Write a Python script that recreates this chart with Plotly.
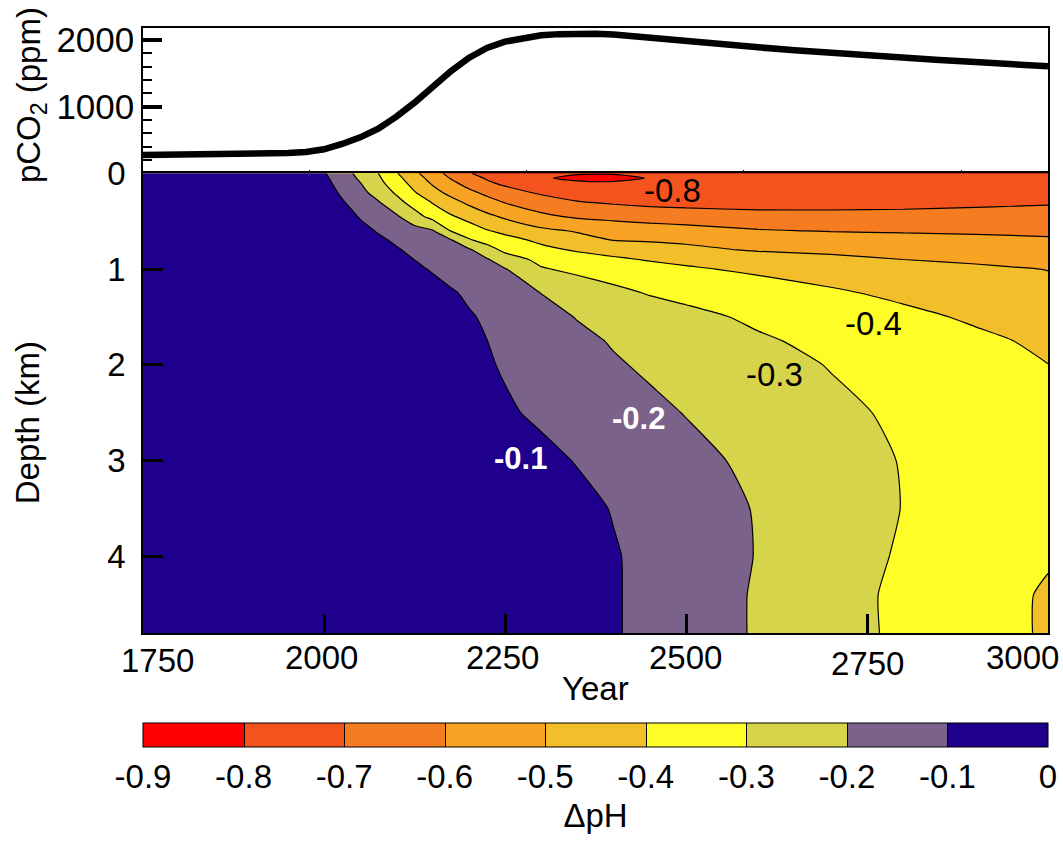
import plotly.graph_objects as go

# ---- top panel: atmospheric pCO2 (ppm) ----
co2_years = [1750, 1800, 1850, 1900, 1950, 1975, 2000, 2025, 2050, 2075, 2100, 2125,
             2150, 2175, 2200, 2225, 2250, 2275, 2300, 2325, 2350, 2375, 2400, 2450,
             2500, 2550, 2600, 2650, 2700, 2750, 2800, 2850, 2900, 2950, 3000]
co2_ppm = [275, 278, 282, 290, 305, 320, 360, 440, 540, 670, 850, 1060,
           1300, 1530, 1730, 1880, 1975, 2030, 2070, 2088, 2095, 2092, 2082, 2040,
           1985, 1935, 1890, 1845, 1805, 1766, 1733, 1700, 1670, 1640, 1605]

# ---- lower panel: delta pH section, columns = years, rows = depth (km) ----
ph_years = [1750, 1900, 2000, 2025, 2050, 2075, 2100, 2125, 2150, 2175, 2200, 2225,
            2250, 2300, 2350, 2400, 2450, 2500, 2600, 2700, 2800, 2900, 2950, 3000]
ph_depths = [0, 0.05, 0.1, 0.2, 0.3, 0.45, 0.6, 0.7, 0.8, 0.9, 1.0, 1.25, 1.5, 1.75, 2.0,
             2.5, 3.0, 3.5, 4.0, 4.4, 4.8]

dph_000 = [0.0, -0.005, -0.092, -0.159, -0.229, -0.300, -0.393, -0.479, -0.559, -0.631, -0.695, -0.724,
           -0.750, -0.785, -0.795, -0.797, -0.794, -0.792, -0.789, -0.786, -0.783, -0.780, -0.779, -0.778]
dph_005 = [0.0, -0.005, -0.082, -0.147, -0.214, -0.286, -0.371, -0.457, -0.534, -0.605, -0.661, -0.709,
           -0.737, -0.793, -0.814, -0.812, -0.798, -0.792, -0.787, -0.784, -0.781, -0.778, -0.776, -0.775]
dph_010 = [0.0, -0.005, -0.073, -0.135, -0.198, -0.273, -0.353, -0.435, -0.513, -0.579, -0.635, -0.686,
           -0.720, -0.760, -0.790, -0.795, -0.789, -0.785, -0.780, -0.777, -0.775, -0.772, -0.771, -0.770]
dph_020 = [0.0, -0.005, -0.056, -0.114, -0.172, -0.238, -0.313, -0.394, -0.466, -0.527, -0.578, -0.622,
           -0.662, -0.715, -0.735, -0.748, -0.754, -0.757, -0.758, -0.757, -0.755, -0.752, -0.751, -0.750]
dph_030 = [0.0, -0.005, -0.041, -0.092, -0.143, -0.194, -0.269, -0.341, -0.407, -0.467, -0.520, -0.567,
           -0.606, -0.651, -0.696, -0.712, -0.722, -0.728, -0.733, -0.732, -0.728, -0.720, -0.715, -0.710]
dph_045 = [0.0, -0.005, -0.026, -0.066, -0.106, -0.147, -0.187, -0.263, -0.333, -0.389, -0.434, -0.478,
           -0.516, -0.582, -0.614, -0.633, -0.653, -0.660, -0.672, -0.674, -0.672, -0.666, -0.664, -0.662]
dph_060 = [0.0, -0.005, -0.020, -0.048, -0.077, -0.106, -0.134, -0.163, -0.192, -0.302, -0.348, -0.394,
           -0.424, -0.478, -0.509, -0.525, -0.541, -0.557, -0.592, -0.605, -0.612, -0.615, -0.617, -0.618]
dph_070 = [0.0, -0.004, -0.008, -0.034, -0.060, -0.086, -0.111, -0.137, -0.163, -0.189, -0.288, -0.331,
           -0.364, -0.419, -0.462, -0.501, -0.508, -0.515, -0.530, -0.545, -0.559, -0.574, -0.582, -0.589]
dph_080 = [0.0, -0.003, -0.005, -0.023, -0.046, -0.069, -0.093, -0.116, -0.139, -0.162, -0.185, -0.260,
           -0.320, -0.373, -0.411, -0.433, -0.455, -0.478, -0.509, -0.524, -0.537, -0.549, -0.555, -0.560]
dph_090 = [0.0, -0.003, -0.005, -0.009, -0.032, -0.055, -0.077, -0.101, -0.123, -0.145, -0.168, -0.191,
           -0.256, -0.323, -0.354, -0.385, -0.407, -0.420, -0.447, -0.473, -0.500, -0.516, -0.523, -0.531]
dph_100 = [0.0, -0.003, -0.005, -0.005, -0.019, -0.041, -0.063, -0.085, -0.107, -0.129, -0.151, -0.173,
           -0.195, -0.292, -0.321, -0.343, -0.366, -0.389, -0.416, -0.438, -0.460, -0.482, -0.493, -0.502]
dph_125 = [0.0, -0.003, -0.005, -0.005, -0.005, -0.005, -0.025, -0.047, -0.069, -0.091, -0.113, -0.135,
           -0.157, -0.201, -0.239, -0.277, -0.306, -0.323, -0.355, -0.388, -0.418, -0.447, -0.461, -0.475]
dph_150 = [0.0, -0.003, -0.005, -0.005, -0.005, -0.005, -0.017, -0.036, -0.055, -0.074, -0.092, -0.111,
           -0.130, -0.168, -0.204, -0.228, -0.252, -0.276, -0.316, -0.347, -0.379, -0.412, -0.431, -0.449]
dph_175 = [0.0, -0.003, -0.005, -0.005, -0.005, -0.005, -0.020, -0.036, -0.052, -0.068, -0.083, -0.0994,
           -0.115, -0.147, -0.179, -0.207, -0.227, -0.248, -0.289, -0.322, -0.353, -0.383, -0.399, -0.420]
dph_200 = [0.0, -0.003, -0.005, -0.005, -0.005, -0.008, -0.022, -0.037, -0.051, -0.065, -0.079, -0.093,
           -0.107, -0.135, -0.163, -0.191, -0.213, -0.231, -0.268, -0.304, -0.336, -0.368, -0.384, -0.399]
dph_250 = [0.0, -0.003, -0.005, -0.005, -0.005, -0.010, -0.022, -0.033, -0.045, -0.056, -0.067, -0.079,
           -0.090, -0.113, -0.135, -0.158, -0.181, -0.203, -0.242, -0.280, -0.315, -0.345, -0.360, -0.375]
dph_300 = [0.0, -0.003, -0.005, -0.005, -0.005, -0.005, -0.005, -0.005, -0.009, -0.021, -0.033, -0.045,
           -0.057, -0.080, -0.104, -0.127, -0.151, -0.175, -0.220, -0.263, -0.304, -0.332, -0.346, -0.360]
dph_350 = [0.0, -0.003, -0.005, -0.005, -0.005, -0.005, -0.005, -0.005, -0.005, -0.005, -0.005, -0.014,
           -0.027, -0.052, -0.078, -0.104, -0.129, -0.155, -0.206, -0.254, -0.302, -0.332, -0.347, -0.362]
dph_400 = [0.0, -0.003, -0.005, -0.005, -0.005, -0.005, -0.005, -0.005, -0.005, -0.005, -0.005, -0.005,
           -0.012, -0.039, -0.067, -0.094, -0.121, -0.149, -0.204, -0.258, -0.310, -0.351, -0.371, -0.392]
dph_440 = [0.0, -0.003, -0.005, -0.005, -0.005, -0.005, -0.005, -0.005, -0.005, -0.005, -0.005, -0.005,
           -0.006, -0.035, -0.064, -0.093, -0.122, -0.151, -0.209, -0.266, -0.318, -0.362, -0.385, -0.410]
dph_480 = [0.0, -0.003, -0.005, -0.005, -0.005, -0.005, -0.005, -0.005, -0.005, -0.005, -0.005, -0.005,
           -0.006, -0.035, -0.064, -0.093, -0.122, -0.152, -0.209, -0.265, -0.317, -0.361, -0.384, -0.412]

dph = [dph_000, dph_005, dph_010, dph_020, dph_030, dph_045, dph_060, dph_070, dph_080, dph_090,
       dph_100, dph_125, dph_150, dph_175, dph_200, dph_250, dph_300, dph_350, dph_400, dph_440,
       dph_480]

# colour of each 0.1 band, from -0.9..-0.8 up to -0.1..0
band_colors = ['#fe0000', '#f5531e', '#f67c22', '#f8a323', '#f2be29',
               '#fefd28', '#d6d44a', '#7a628a', '#1f008c']

year_ticks = [1750, 2000, 2250, 2500, 2750, 3000]
year_labels = ['1750', '2000', '2250', '2500', '2750', '3000']
top_year_ticks = [1980, 2280, 2580, 2880]
depth_ticks = [0, 1, 2, 3, 4]
depth_labels = ['0', '1', '2', '3', '4']
co2_ticks = [1000, 2000]
co2_labels = ['1000', '2000']
co2_minor = [200, 400, 600, 800, 1200, 1400, 1600, 1800]
cb_ticks = [-0.9, -0.8, -0.7, -0.6, -0.5, -0.4, -0.3, -0.2, -0.1, 0]
cb_labels = ['-0.9', '-0.8', '-0.7', '-0.6', '-0.5', '-0.4', '-0.3', '-0.2', '-0.1', '0']

# inline contour labels: text, year, depth, white bold?
contour_labels = [('-0.1', 2272, 2.98, True), ('-0.2', 2435, 2.555, True),
                  ('-0.3', 2622, 2.10, False), ('-0.4', 2759, 1.565, False),
                  ('-0.8', 2481, 0.184, False)]

FONT = 'Liberation Sans, Arial, Helvetica, sans-serif'
fsz = 33

n = len(band_colors)
# colours picked at band mid-points by the filled contour
fill_scale = [[i / (n - 1), c] for i, c in enumerate(band_colors)]
# stepped scale over [-0.9, 0] for the colour bar
step_scale = []
for i, c in enumerate(band_colors):
    step_scale.append([i / n, c])
    step_scale.append([(i + 1) / n, c])

fig = go.Figure()

fig.add_trace(go.Scatter(
    x=co2_years, y=co2_ppm, mode='lines',
    line=dict(color='black', width=6.5),
    xaxis='x', yaxis='y', hoverinfo='skip', showlegend=False))

fig.add_trace(go.Contour(
    x=ph_years, y=ph_depths, z=dph, xaxis='x2', yaxis='y2',
    contours=dict(start=-0.8, end=-0.1, size=0.1, coloring='fill'),
    colorscale=fill_scale, showscale=False,
    line=dict(color='black', width=1.2, smoothing=0.6),
    hoverinfo='skip'))

# invisible copy that only supplies the banded colour bar
fig.add_trace(go.Contour(
    x=ph_years, y=ph_depths, z=dph, xaxis='x2', yaxis='y2', opacity=0,
    contours=dict(start=-0.8, end=-0.1, size=0.1, coloring='heatmap'),
    colorscale=step_scale, zmin=-0.9, zmax=0, zauto=False,
    line=dict(color='black', width=1),
    hoverinfo='skip',
    colorbar=dict(
        orientation='h', x=0.5, xanchor='center', y=-0.1493, yanchor='top',
        len=1, lenmode='fraction', thickness=24, xpad=0, ypad=0,
        outlinecolor='black', outlinewidth=1,
        tickmode='array', tickvals=cb_ticks, ticktext=cb_labels, ticks='',
        tickfont=dict(family=FONT, size=fsz, color='black'),
        title=dict(text='ΔpH', side='bottom', font=dict(family=FONT, size=fsz, color='black')),
    )))

annotations = []

# x tick labels of the lower panel (small nudges as in the original artwork)
xlabel_nudge = [(14, -27), (-3, -24.5), (-3, -24), (-1, -24), (0, -30), (-26, -24)]
for yr, lab, (dx, dy) in zip(year_ticks, year_labels, xlabel_nudge):
    annotations.append(dict(x=yr, xref='x2', y=0, yref='paper', text=lab, showarrow=False,
                            xanchor='center', yanchor='middle', xshift=dx, yshift=dy,
                            font=dict(family=FONT, size=fsz, color='black')))

annotations.append(dict(x=0.5, xref='paper', y=0, yref='paper', text='Year', showarrow=False,
                        xanchor='center', yanchor='middle', yshift=-55,
                        font=dict(family=FONT, size=fsz, color='black')))
annotations.append(dict(x=-0.1238, xref='paper', y=0.889, yref='paper',
                        text='pCO<sub>2</sub> (ppm)', showarrow=False, textangle=-90,
                        xanchor='center', yanchor='middle',
                        font=dict(family=FONT, size=fsz, color='black')))
annotations.append(dict(x=-0.128, xref='paper', y=0.347, yref='paper',
                        text='Depth (km)', showarrow=False, textangle=-90,
                        xanchor='center', yanchor='middle',
                        font=dict(family=FONT, size=fsz, color='black')))

for txt, yr, dep, white in contour_labels:
    annotations.append(dict(
        x=yr, xref='x2', y=dep, yref='y2', text='<b>%s</b>' % txt if white else txt,
        showarrow=False, xanchor='center', yanchor='middle',
        font=dict(family=FONT, size=31 if white else fsz, color='white' if white else 'black')))

axis_common = dict(showgrid=False, zeroline=False, showline=True, linecolor='black',
                   linewidth=1.5, mirror=True, tickcolor='black')

fig.update_layout(
    width=1063, height=841,
    margin=dict(l=143, r=15, t=28, b=208, autoexpand=False),
    paper_bgcolor='white', plot_bgcolor='white',
    font=dict(family=FONT, size=fsz, color='black'),
    showlegend=False,
    xaxis=dict(domain=[0, 1], anchor='y', range=[1750, 3000], ticks='inside',
               tickmode='array', tickvals=top_year_ticks, ticklen=4, tickwidth=1,
               showticklabels=False, **axis_common),
    yaxis=dict(domain=[0.7598, 1], anchor='x', range=[0, 2180], ticks='inside',
               tickmode='array', tickvals=co2_ticks, ticktext=co2_labels,
               ticklen=19, tickwidth=3.5, ticklabelstandoff=0,
               minor=dict(tickmode='array', tickvals=co2_minor, ticks='inside',
                          ticklen=9, tickwidth=1.5, tickcolor='black'),
               tickfont=dict(family=FONT, size=35, color='black'), **axis_common),
    xaxis2=dict(domain=[0, 1], anchor='y2', range=[1750, 3000], ticks='inside',
                tickmode='array', tickvals=year_ticks, ticklen=19, tickwidth=3,
                showticklabels=False, **axis_common),
    yaxis2=dict(domain=[0, 0.7598], anchor='x2', range=[4.8, 0], ticks='inside',
                tickmode='array', tickvals=depth_ticks, ticktext=depth_labels,
                ticklen=20, tickwidth=3, ticklabelstandoff=9,
                tickfont=dict(family=FONT, size=fsz, color='black'), **axis_common),
    annotations=annotations,
)

# drop the browser's default page margin so the figure sits at the window origin
fig.write_html('out.html', config={'displayModeBar': False},
               post_script="document.body.style.margin='0';document.body.style.overflow='hidden';")
